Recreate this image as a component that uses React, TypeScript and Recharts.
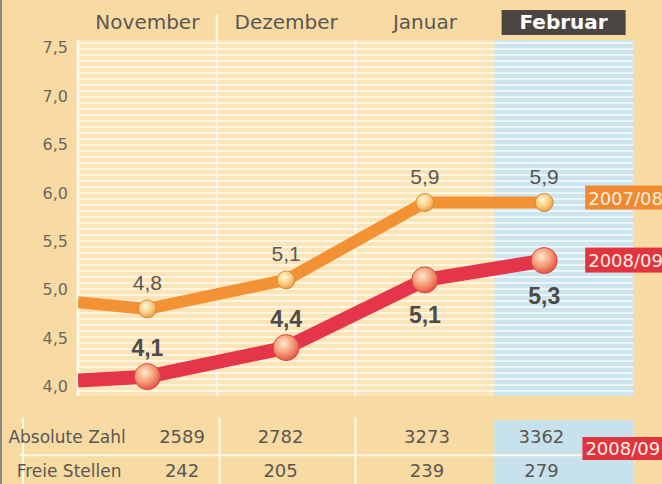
import React from 'react';
import { ComposedChart, Line, XAxis, YAxis, ReferenceArea, ReferenceLine, LabelList } from 'recharts';

// ---- data ----
const months = ['November', 'Dezember', 'Januar', 'Februar'];
const monthCenters = [0.5, 1.5, 2.5, 3.5];
const pointX = [0, 0.5, 1.5, 2.5, 3.36];
const quote0708 = [4.87, 4.8, 5.1, 5.9, 5.9];
const quote0809 = [4.06, 4.1, 4.4, 5.1, 5.3];
const seriesNames = ['2007/08', '2008/09'];
const rowLabels = ['Absolute Zahl', 'Freie Stellen'];
const absoluteZahl = [2589, 2782, 3273, 3362];
const freieStellen = [242, 205, 239, 279];
const tableX = [0.75, 1.46, 2.515, 3.34];
const yTicks = [4, 4.5, 5, 5.5, 6, 6.5, 7, 7.5];

const data = pointX.map((x, i) => ({ x, a: quote0708[i], b: quote0809[i] }));

const fmt = (v: number) => v.toFixed(1).replace('.', ',');

const TEXT = '#5a5753';
const SANS = 'DejaVu Sans, sans-serif';
const ARIAL = 'Liberation Sans, Arial, sans-serif';
const ORANGE = '#F39234';
const RED = '#E5354A';

const MonthTick = (props: any) => {
  const { x, y, payload } = props;
  const i = monthCenters.indexOf(payload.value);
  const label = months[i];
  if (i === months.length - 1) {
    return (
      <g>
        <rect x={x - 62} y={y - 30} width={124} height={25} fill="#4b4642" />
        <text x={x} y={y - 11} textAnchor="middle" fill="#ffffff" fontWeight="bold" fontSize={20} fontFamily={SANS}>
          {label}
        </text>
      </g>
    );
  }
  return (
    <text x={x} y={y - 11} textAnchor="middle" fill={TEXT} fontSize={20} fontFamily={SANS}>
      {label}
    </text>
  );
};

const TableTick = (props: any) => {
  const { x, y, payload } = props;
  const i = tableX.indexOf(payload.value);
  return (
    <g>
      {i === 0 && (
        <g>
          <text x={x - 115} y={y + 47} textAnchor="middle" fill={TEXT} fontSize={17} fontFamily={SANS}>{rowLabels[0]}</text>
          <text x={x - 113} y={y + 81} textAnchor="middle" fill={TEXT} fontSize={17} fontFamily={SANS}>{rowLabels[1]}</text>
        </g>
      )}
      <text x={x} y={y + 47} textAnchor="middle" fill={TEXT} fontSize={18} fontFamily={SANS}>{absoluteZahl[i]}</text>
      <text x={x} y={y + 81} textAnchor="middle" fill={TEXT} fontSize={18} fontFamily={SANS}>{freieStellen[i]}</text>
      {i === tableX.length - 1 && (
        <g>
          <rect x={x + 41} y={y + 41} width={90} height={23} fill="#E2343F" />
          <text x={x + 44} y={y + 59} fill="#FFF1E6" fontSize={18} fontFamily={SANS}>{seriesNames[1]}</text>
        </g>
      )}
    </g>
  );
};

const OrangeDot = (p: any) =>
  p.index === 0 ? (
    <g key={`od${p.index}`} />
  ) : (
    <circle key={`od${p.index}`} cx={p.cx} cy={p.cy} r={9} fill="url(#dotOrange)" stroke="#D98A3A" strokeWidth={1} />
  );

const RedDot = (p: any) =>
  p.index === 0 ? (
    <g key={`rd${p.index}`} />
  ) : (
    <circle key={`rd${p.index}`} cx={p.cx} cy={p.cy} r={13} fill="url(#dotRed)" stroke="#D9473E" strokeWidth={1} />
  );

const OrangeLabel = (p: any) => {
  const { x, y, value, index } = p;
  if (index === 0) return null;
  return (
    <g>
      <text x={x} y={y - 19} textAnchor="middle" fill={TEXT} fontSize={21} fontFamily={ARIAL}>{fmt(value)}</text>
      {index === pointX.length - 1 && (
        <g>
          <rect x={x + 41} y={y - 17} width={90} height={24} fill="#EF8A30" />
          <text x={x + 44} y={y + 2} fill="#FFF1E0" fontSize={18} fontFamily={SANS}>{seriesNames[0]}</text>
        </g>
      )}
    </g>
  );
};

const RedLabel = (p: any) => {
  const { x, y, value, index } = p;
  if (index === 0) return null;
  const below = index >= 3;
  return (
    <g>
      <text x={x} y={below ? y + 43 : y - 21} textAnchor="middle" fill="#4d4a47" fontSize={23} fontWeight="bold" fontFamily={ARIAL}>{fmt(value)}</text>
      {index === pointX.length - 1 && (
        <g>
          <rect x={x + 41} y={y - 13} width={90} height={25} fill="#E2343F" />
          <text x={x + 44} y={y + 6} fill="#FFF1E6" fontSize={18} fontFamily={SANS}>{seriesNames[1]}</text>
        </g>
      )}
    </g>
  );
};

export default function App() {
  return (
    <div style={{ position: 'absolute', left: 0, top: 0, width: 662, height: 484, background: '#F7DBA3', overflow: 'hidden' }}>
      <ComposedChart width={662} height={484} data={data} margin={{ top: 0, right: 29, bottom: 0, left: 0 }}>
        <defs>
          <pattern id="stripesTan" width="8" height="6" patternUnits="userSpaceOnUse">
            <rect width="8" height="6" fill="#FAE4B8" />
            <rect y="0" width="8" height="2" fill="#FFF6E2" />
          </pattern>
          <pattern id="stripesBlue" width="8" height="6" patternUnits="userSpaceOnUse">
            <rect width="8" height="6" fill="#CCE5EE" />
            <rect y="0" width="8" height="2" fill="#ECF6F8" />
          </pattern>
          <radialGradient id="dotOrange" cx="40%" cy="35%" r="70%">
            <stop offset="0" stopColor="#FFF8D8" />
            <stop offset="0.6" stopColor="#F8C878" />
            <stop offset="1" stopColor="#E29443" />
          </radialGradient>
          <radialGradient id="dotRed" cx="40%" cy="35%" r="70%">
            <stop offset="0" stopColor="#FFE6D0" />
            <stop offset="0.5" stopColor="#F6A07A" />
            <stop offset="1" stopColor="#DE4B3C" />
          </radialGradient>
        </defs>
        <ReferenceArea xAxisId="top" x1={0} x2={3} y1={3.9} y2={7.58} fill="url(#stripesTan)" fillOpacity={1} stroke="none" />
        <ReferenceArea xAxisId="top" x1={3} x2={4} y1={3.9} y2={7.58} fill="url(#stripesBlue)" fillOpacity={1} stroke="none" />
        <ReferenceArea xAxisId="top" x1={3} x2={4} y1={2.98} y2={3.65} fill="#C7E2EC" fillOpacity={1} stroke="none" ifOverflow="visible" />
        <ReferenceLine xAxisId="top" segment={[{ x: 0, y: 3.9 }, { x: 0, y: 7.58 }]} stroke="#FFF8EA" strokeWidth={3} ifOverflow="visible" />
        <ReferenceLine xAxisId="top" segment={[{ x: 1, y: 3.9 }, { x: 1, y: 7.84 }]} stroke="#FFF8EA" strokeWidth={2} ifOverflow="visible" />
        <ReferenceLine xAxisId="top" segment={[{ x: 2, y: 3.9 }, { x: 2, y: 7.58 }]} stroke="#FFF8EA" strokeWidth={2} ifOverflow="visible" />
        <ReferenceLine xAxisId="top" segment={[{ x: -0.42, y: 3.287 }, { x: 4, y: 3.287 }]} stroke="#FFF8EA" strokeWidth={2} ifOverflow="visible" />
        <ReferenceLine xAxisId="top" segment={[{ x: -0.396, y: 3.68 }, { x: -0.396, y: 2.98 }]} stroke="#FFF8EA" strokeWidth={2} ifOverflow="visible" />
        <ReferenceLine xAxisId="top" segment={[{ x: 1.02, y: 3.68 }, { x: 1.02, y: 2.98 }]} stroke="#FFF8EA" strokeWidth={2} ifOverflow="visible" />
        <ReferenceLine xAxisId="top" segment={[{ x: 2.0, y: 3.68 }, { x: 2.0, y: 2.98 }]} stroke="#FFF8EA" strokeWidth={2} ifOverflow="visible" />
        <XAxis
          xAxisId="top"
          orientation="top"
          type="number"
          dataKey="x"
          domain={[0, 4]}
          ticks={monthCenters}
          interval={0}
          height={40}
          axisLine={false}
          tickLine={false}
          tickSize={0}
          tickMargin={0}
          tick={<MonthTick />}
          allowDataOverflow
        />
        <XAxis
          xAxisId="bottom"
          orientation="bottom"
          type="number"
          domain={[0, 4]}
          ticks={tableX}
          interval={0}
          height={88}
          axisLine={false}
          tickLine={false}
          tickSize={0}
          tickMargin={0}
          tick={<TableTick />}
          allowDataOverflow
        />
        <YAxis
          type="number"
          domain={[3.9, 7.58]}
          ticks={yTicks}
          interval={0}
          width={78}
          axisLine={false}
          tickLine={false}
          tickSize={0}
          tickMargin={10}
          tickFormatter={fmt}
          tick={{ fill: '#6a6763', fontSize: 16, fontFamily: SANS }}
          allowDataOverflow
        />
        <Line
          xAxisId="top"
          type="linear"
          dataKey="a"
          stroke={ORANGE}
          strokeWidth={12}
          strokeLinejoin="round"
          dot={OrangeDot}
          activeDot={false}
          isAnimationActive={false}
        >
          <LabelList dataKey="a" content={OrangeLabel} />
        </Line>
        <Line
          xAxisId="top"
          type="linear"
          dataKey="b"
          stroke={RED}
          strokeWidth={14}
          strokeLinejoin="round"
          dot={RedDot}
          activeDot={false}
          isAnimationActive={false}
        >
          <LabelList dataKey="b" content={RedLabel} />
        </Line>
      </ComposedChart>
      <div style={{ position: 'absolute', left: 0, top: 0, width: 2, height: 484, background: '#8d8a86' }} />
    </div>
  );
}
